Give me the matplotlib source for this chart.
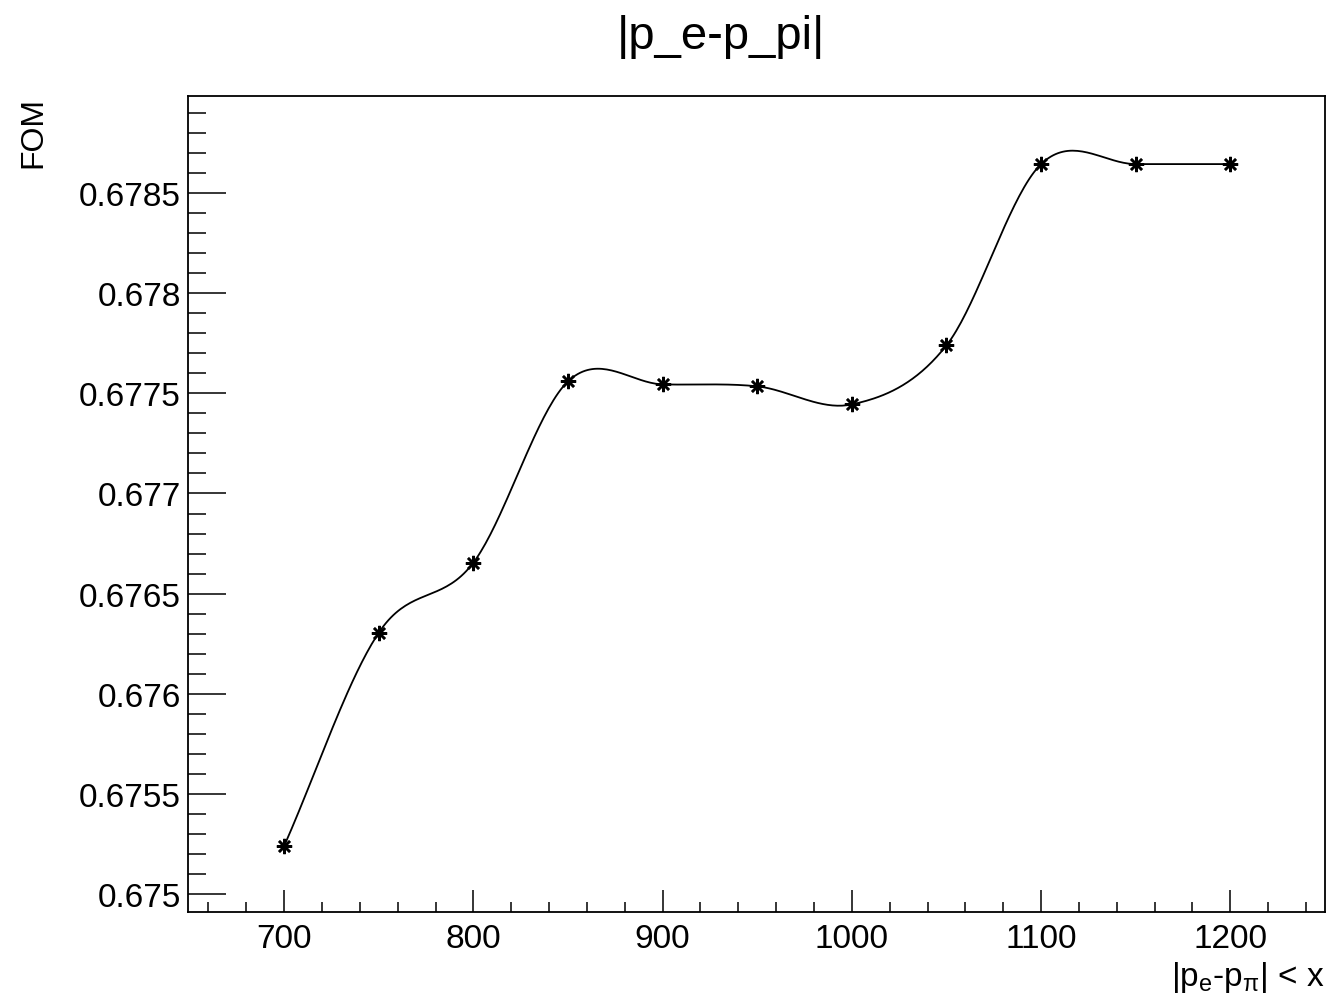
import numpy as np
import matplotlib
matplotlib.use("Agg")
from matplotlib import pyplot as plt
from matplotlib.ticker import MultipleLocator, FormatStrFormatter

# cut value on |p_e - p_pi| and the resulting figure of merit
cut_x = [700, 750, 800, 850, 900, 950, 1000, 1050, 1100, 1150, 1200]
fom = [0.67524, 0.676305, 0.676655, 0.67756, 0.677545, 0.677535,
       0.677445, 0.67774, 0.678645, 0.678645, 0.678645]

plt.rcParams['font.family'] = ['Liberation Sans', 'DejaVu Sans']
plt.rcParams['mathtext.fontset'] = 'custom'
plt.rcParams['mathtext.rm'] = 'Liberation Sans'
plt.rcParams['mathtext.it'] = 'Liberation Sans'


def smooth_curve(x, y, n=40):
    # hermite pieces with catmull-rom slopes, like the root "C" option
    x = np.asarray(x, float)
    y = np.asarray(y, float)
    m = np.zeros_like(y)
    m[1:-1] = (y[2:] - y[:-2]) / (x[2:] - x[:-2])
    m[0] = (y[1] - y[0]) / (x[1] - x[0])
    m[-1] = (y[-1] - y[-2]) / (x[-1] - x[-2])
    xs, ys = [], []
    for i in range(len(x) - 1):
        h = x[i + 1] - x[i]
        t = np.linspace(0, 1, n)
        h00 = 2 * t**3 - 3 * t**2 + 1
        h10 = t**3 - 2 * t**2 + t
        h01 = -2 * t**3 + 3 * t**2
        h11 = t**3 - t**2
        xs.append(x[i] + t * h)
        ys.append(h00 * y[i] + h10 * h * m[i] + h01 * y[i + 1] + h11 * h * m[i + 1])
    return np.concatenate(xs), np.concatenate(ys)


fig = plt.figure(figsize=(13.28, 9.95), dpi=100)
ax = fig.add_axes([0.1416, 0.0824, 0.8561, 0.8201])

sx, sy = smooth_curve(cut_x, fom)
ax.plot(sx, sy, color='black', lw=1.3)
ax.plot(cut_x, fom, linestyle='none', marker=(8, 2, 0), ms=11, mew=1.8, color='black')

ax.set_xlim(649.2, 1250)
ax.set_ylim(0.67491, 0.678985)

ax.xaxis.set_major_locator(MultipleLocator(100))
ax.xaxis.set_minor_locator(MultipleLocator(20))
ax.yaxis.set_major_locator(MultipleLocator(0.0005))
ax.yaxis.set_minor_locator(MultipleLocator(0.0001))
ax.yaxis.set_major_formatter(FormatStrFormatter('%g'))

ax.tick_params(which='both', direction='in', top=False, right=False, labelsize=24, width=1.1)
ax.tick_params(axis='x', which='major', length=16, pad=8)
ax.tick_params(axis='x', which='minor', length=7.5)
ax.tick_params(axis='y', which='major', length=27, pad=5)
ax.tick_params(axis='y', which='minor', length=13)
for s in ax.spines.values():
    s.set_linewidth(1.3)

fig.text(0.5425, 0.963, '|p_e-p_pi|', ha='center', va='center', fontsize=34)
fig.text(0.9977, 0.0, r'|p$_{\mathrm{e}}$-p$_{\pi}$| < x', ha='right', va='bottom', fontsize=24)
fig.text(0.025, 0.9025, 'FOM', rotation=90, ha='center', va='top', fontsize=23)

fig.savefig('out.png', dpi=100)
